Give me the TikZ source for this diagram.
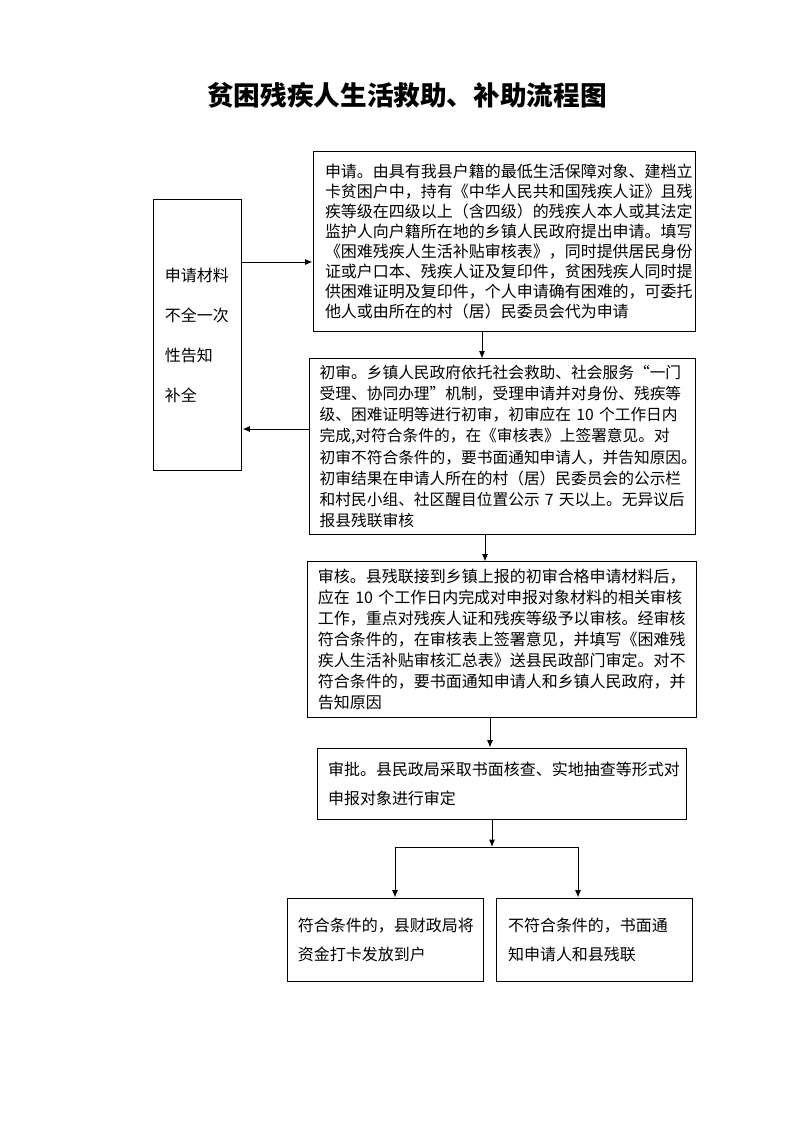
\documentclass[tikz,border=0pt]{standalone}
\usepackage{fontspec}
\newfontfamily\cjk{Noto Sans CJK SC}
\usetikzlibrary{arrows.meta}
\begin{document}
\begin{tikzpicture}[x=0.7507pt,y=-0.7507pt,
  box/.style={draw,line width=0.75pt,align=left,inner ysep=0pt,
    font=\cjk\fontsize{12pt}{15.8pt}\selectfont},
  arr/.style={line width=0.75pt,-{Latex[length=5.5pt,width=4.5pt]}},
  ln/.style={line width=0.75pt}]
\useasboundingbox (0,0) rectangle (793,1122);
\fill[white] (0,0) rectangle (793,1122);
\node[font=\cjk\bfseries\fontsize{20pt}{24pt}\selectfont] (title) at (407,95) {贫困残疾人生活救助、补助流程图};

\node[box,minimum width=287.5pt,minimum height=134.4pt,inner xsep=9pt,text width=269.5pt,
  font=\cjk\fontsize{12pt}{15.1pt}\selectfont] (b1) at (504.5,241.5) {%
申请。由具有我县户籍的最低生活保障对象、建档立\\
卡贫困户中，持有《中华人民共和国残疾人证》且残\\
疾等级在四级以上（含四级）的残疾人本人或其法定\\
监护人向户籍所在地的乡镇人民政府提出申请。填写\\
《困难残疾人生活补贴审核表》，同时提供居民身份\\
证或户口本、残疾人证及复印件，贫困残疾人同时提\\
供困难证明及复印件，个人申请确有困难的，可委托\\
他人或由所在的村（居）民委员会代为申请};

\node[box,minimum width=290.5pt,minimum height=131.4pt,inner xsep=8pt,text width=274.5pt,
  font=\cjk\fontsize{11.8pt}{15.8pt}\selectfont] (b2) at (502.5,446.5) {%
初审。乡镇人民政府依托社会救助、社会服务“一门\\
受理、协同办理”机制，受理申请并对身份、残疾等\\
级、困难证明等进行初审，初审应在~10~个工作日内\\
完成,对符合条件的，在《审核表》上签署意见。对\\
初审不符合条件的，要书面通知申请人，并告知原因。\\
初审结果在申请人所在的村（居）民委员会的公示栏\\
和村民小组、社区醒目位置公示~7~天以上。无异议后\\
报县残联审核};

\node[box,minimum width=291.3pt,minimum height=116.4pt,inner xsep=7.5pt,text width=276.3pt] (b3) at (502,639.5) {%
审核。县残联接到乡镇上报的初审合格申请材料后，\\
应在~10~个工作日内完成对申报对象材料的相关审核\\
工作，重点对残疾人证和残疾等级予以审核。经审核\\
符合条件的，在审核表上签署意见，并填写《困难残\\
疾人生活补贴审核汇总表》送县民政部门审定。对不\\
符合条件的，要书面通知申请人和乡镇人民政府，并\\
告知原因};

\node[box,minimum width=277pt,minimum height=53.3pt,inner xsep=8.3pt,text width=260.4pt,
  font=\cjk\fontsize{12pt}{21.8pt}\selectfont] (b4) at (501.5,783.5) {%
审批。县民政局采取书面核查、实地抽查等形式对\\
申报对象进行审定};

\node[box,minimum width=146.4pt,minimum height=62.3pt,inner xsep=7.5pt,text width=131.4pt,
  font=\cjk\fontsize{12pt}{21.8pt}\selectfont] (b5) at (385.5,939.5) {%
符合条件的，县财政局将\\
资金打卡发放到户};

\node[box,minimum width=146.4pt,minimum height=62.3pt,inner xsep=8.3pt,text width=129.8pt,
  font=\cjk\fontsize{12pt}{21.8pt}\selectfont] (b6) at (594.5,939.5) {%
不符合条件的，书面通\\
知申请人和县残联};

\node[box,minimum width=66.8pt,minimum height=202.7pt,inner xsep=9pt,text width=48.8pt,
  font=\cjk\fontsize{12pt}{30pt}\selectfont] (lb) at (197.5,335) {%
申请材料\\
不全一次\\
性告知\\
补全};

\coordinate (y1) at (0,262);
\coordinate (y2) at (0,429);
\coordinate (x1) at (482,0);
\coordinate (x2) at (485,0);
\coordinate (x3) at (490,0);
\coordinate (j) at (492,847);
\coordinate (jl) at (395,847);
\coordinate (jr) at (578,847);

\draw[arr] (lb.east |- y1) -- (b1.west |- y1);
\draw[arr] (b2.west |- y2) -- (lb.east |- y2);
\draw[arr] (b1.south -| x1) -- (b2.north -| x1);
\draw[arr] (b2.south -| x2) -- (b3.north -| x2);
\draw[arr] (b3.south -| x3) -- (b4.north -| x3);
\draw[arr] (b4.south -| j) -- (j);
\draw[ln] (jl) -- (jr);
\draw[arr] (jl) -- (b5.north -| jl);
\draw[arr] (jr) -- (b6.north -| jr);
\end{tikzpicture}
\end{document}
